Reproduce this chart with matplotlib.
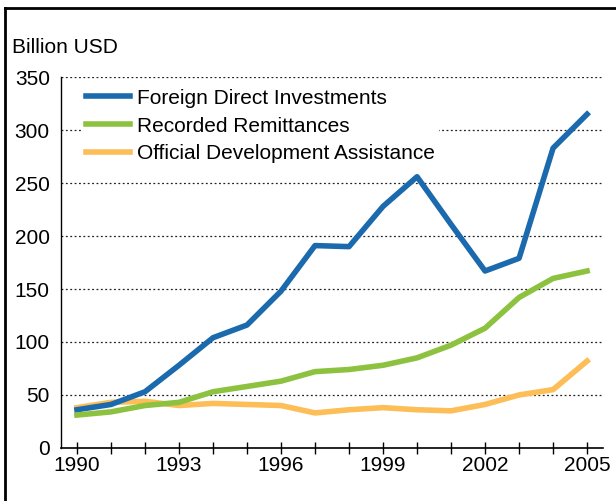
import matplotlib.pyplot as plt
from matplotlib.lines import Line2D

plt.rcParams['font.family'] = ['Liberation Sans', 'DejaVu Sans']

years = list(range(1990, 2006))
fdi = [36, 41, 53, 78, 104, 116, 148, 191, 190, 228, 256, 211, 167, 179, 283, 315]
remit = [31, 34, 40, 43, 53, 58, 63, 72, 74, 78, 85, 97, 113, 142, 160, 167]
oda = [38, 43, 44, 40, 42, 41, 40, 33, 36, 38, 36, 35, 41, 50, 55, 82]

fig = plt.figure(figsize=(6.16, 5.01), dpi=100)
ax = fig.add_axes([0.099, 0.106, 0.880, 0.740])

ax.plot(years, fdi, color='#1b6aad', lw=4, label='Foreign Direct Investments', zorder=3)
ax.plot(years, remit, color='#8cc23f', lw=4, label='Recorded Remittances', zorder=3)
ax.plot(years, oda, color='#fdbd57', lw=4, label='Official Development Assistance', zorder=2)

ax.set_xlim(1989.53, 2005.47)
ax.set_ylim(0, 350)
ax.set_yticks(range(0, 351, 50))
ax.set_xticks(years)
ax.set_xticklabels([str(y) if (y - 1990) % 3 == 0 else '' for y in years])
ax.tick_params(axis='x', direction='inout', length=9, width=1, labelsize=15, pad=1)
ax.tick_params(axis='y', length=0, labelsize=15, pad=8)

for s in ['top', 'right']:
    ax.spines[s].set_visible(False)
ax.spines['left'].set_linewidth(1)
ax.spines['bottom'].set_linewidth(1.2)
ax.yaxis.grid(True, linestyle=(0, (1.5, 2)), color='#222222', lw=0.9)
ax.set_axisbelow(True)

leg = ax.legend(loc='upper left', bbox_to_anchor=(0.02, 1.008), frameon=True, fontsize=15,
                handlelength=2.1, handletextpad=0.32, labelspacing=0.42, borderpad=0.2)
leg.get_frame().set_edgecolor('none')
leg.get_frame().set_facecolor('white')
leg.get_frame().set_alpha(1)

fig.text(0.019, 0.906, 'Billion USD', fontsize=15, va='center', ha='left')

# outer frame (left and top edges)
fig.add_artist(Line2D([0.008, 0.008], [0, 0.984], color='black', lw=2, transform=fig.transFigure))
fig.add_artist(Line2D([0.008, 1], [0.984, 0.984], color='black', lw=2, transform=fig.transFigure))

fig.savefig('out.png', dpi=100)
